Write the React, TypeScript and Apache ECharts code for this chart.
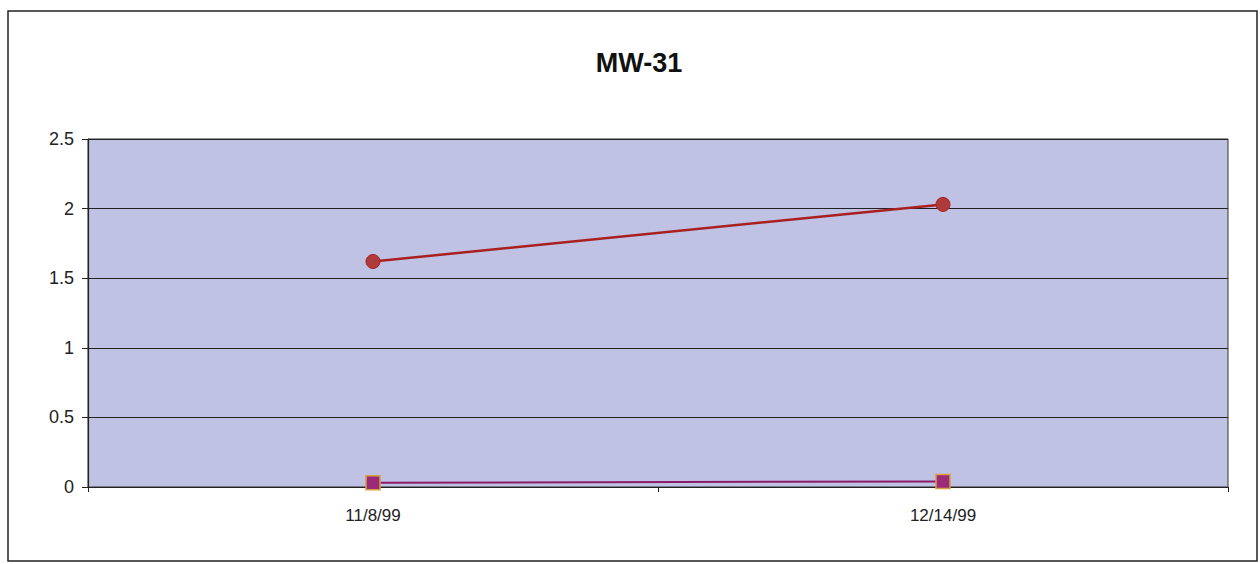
import React, { useEffect, useRef } from "react";
import * as echarts from "echarts";

const categories = ["11/8/99", "12/14/99"];
const seriesA = [1.62, 2.03];
const seriesB = [0.03, 0.04];
const yTicks = { min: 0, max: 2.5, interval: 0.5 };

export default function App() {
  const ref = useRef<HTMLDivElement>(null);
  useEffect(() => {
    if (!ref.current) return;
    const chart = echarts.init(ref.current, undefined, { renderer: "svg" });
    chart.setOption({
      animation: false,
      backgroundColor: "#ffffff",
      title: {
        text: "MW-31",
        left: 634,
        top: 44,
        textAlign: "center",
        textStyle: { fontFamily: "Liberation Sans, Arial", fontSize: 27, fontWeight: "bold", color: "#111" },
      },
      graphic: [
        {
          type: "rect",
          shape: { x: 8, y: 11, width: 1249, height: 550 },
          style: { fill: "none", stroke: "#222", lineWidth: 1.5 },
          silent: true,
        },
      ],
      grid: { left: 88, right: 32, top: 139, bottom: 77, show: true, backgroundColor: "#c0c2e4", borderColor: "#333", borderWidth: 1 },
      xAxis: {
        type: "category",
        data: categories,
        boundaryGap: true,
        axisLine: { lineStyle: { color: "#222", width: 1.2 } },
        axisTick: { show: true, alignWithLabel: false, length: 5, lineStyle: { color: "#222" } },
        axisLabel: { fontFamily: "Liberation Sans, Arial", fontSize: 17, color: "#222", margin: 20 },
      },
      yAxis: {
        type: "value",
        min: yTicks.min,
        max: yTicks.max,
        interval: yTicks.interval,
        axisLine: { show: true, lineStyle: { color: "#222", width: 1.2 } },
        axisTick: { show: true, length: 6, inside: false, lineStyle: { color: "#222" } },
        axisLabel: { fontFamily: "Liberation Sans, Arial", fontSize: 18, color: "#222", margin: 14 },
        splitLine: { lineStyle: { color: "#222", width: 1.2 } },
      },
      series: [
        {
          type: "line",
          data: seriesA,
          symbol: "circle",
          symbolSize: 14,
          lineStyle: { color: "#a82020", width: 2.5 },
          itemStyle: { color: "#b03a3a", borderColor: "#a82020", borderWidth: 1 },
        },
        {
          type: "line",
          data: seriesB,
          symbol: "rect",
          symbolSize: 14,
          lineStyle: { color: "#8a1a6a", width: 2 },
          itemStyle: { color: "#9b2a78", borderColor: "#d6a040", borderWidth: 1.5 },
          z: 5,
        },
      ],
    });
    return () => chart.dispose();
  }, []);
  return <div ref={ref} style={{ width: 1260, height: 564, position: "absolute", left: 0, top: 0 }} />;
}
